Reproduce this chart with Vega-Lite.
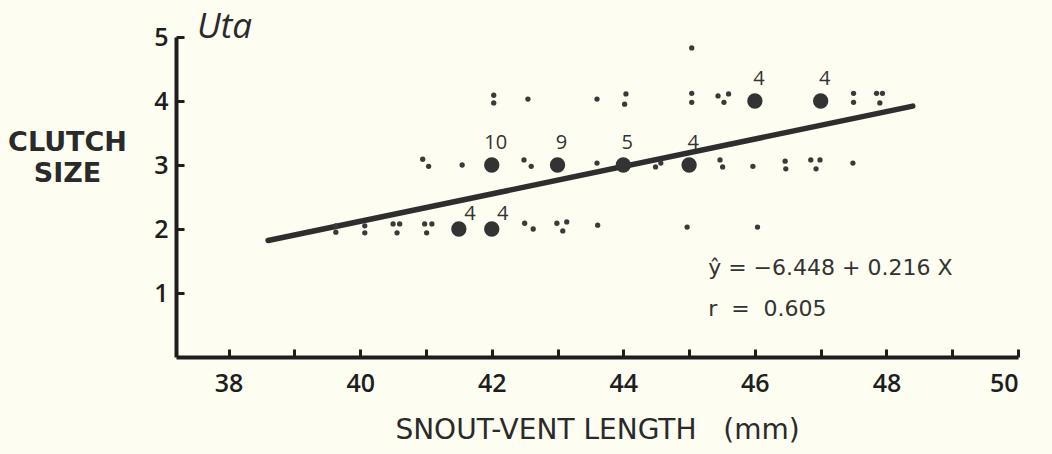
{
  "$schema": "https://vega.github.io/schema/vega-lite/v6.json",
  "width": 842,
  "height": 320,
  "autosize": "none",
  "padding": {"left": 176, "top": 37, "right": 34, "bottom": 97},
  "background": "#fdfdf1",
  "config": {
    "view": {"stroke": null},
    "axis": {
      "domainColor": "#1e1e1e",
      "domainWidth": 4,
      "tickColor": "#1e1e1e",
      "tickWidth": 3,
      "grid": false,
      "labelColor": "#1e1e1e",
      "titleColor": "#2a2a2a",
      "labelFont": "Open Sans",
      "titleFont": "DejaVu Sans"
    }
  },
  "datasets": {
    "small": [
      {"x": 42.03, "y": 4.09}, {"x": 42.03, "y": 3.97}, {"x": 42.55, "y": 4.03},
      {"x": 43.6, "y": 4.03}, {"x": 44.04, "y": 4.11}, {"x": 44.02, "y": 3.95},
      {"x": 45.04, "y": 4.83}, {"x": 45.04, "y": 4.12}, {"x": 45.04, "y": 3.98},
      {"x": 45.44, "y": 4.08}, {"x": 45.53, "y": 3.98}, {"x": 45.6, "y": 4.11},
      {"x": 47.5, "y": 4.12}, {"x": 47.5, "y": 3.98}, {"x": 47.85, "y": 4.12},
      {"x": 47.94, "y": 4.12}, {"x": 47.9, "y": 3.97},
      {"x": 40.95, "y": 3.09}, {"x": 41.04, "y": 2.98}, {"x": 41.55, "y": 3.0},
      {"x": 42.49, "y": 3.08}, {"x": 42.6, "y": 2.98}, {"x": 43.6, "y": 3.03},
      {"x": 44.49, "y": 2.97}, {"x": 44.57, "y": 3.03}, {"x": 45.47, "y": 3.08},
      {"x": 45.51, "y": 2.97}, {"x": 45.97, "y": 2.98}, {"x": 46.46, "y": 3.06},
      {"x": 46.47, "y": 2.94}, {"x": 46.85, "y": 3.08}, {"x": 46.99, "y": 3.08},
      {"x": 46.93, "y": 2.94}, {"x": 47.49, "y": 3.03},
      {"x": 39.63, "y": 1.95}, {"x": 39.63, "y": 2.05}, {"x": 40.07, "y": 1.94},
      {"x": 40.07, "y": 2.05}, {"x": 40.5, "y": 2.08}, {"x": 40.6, "y": 2.08},
      {"x": 40.56, "y": 1.94}, {"x": 40.98, "y": 2.08}, {"x": 41.09, "y": 2.08},
      {"x": 41.01, "y": 1.94}, {"x": 42.5, "y": 2.09}, {"x": 42.63, "y": 2.0},
      {"x": 42.99, "y": 2.09}, {"x": 43.14, "y": 2.11}, {"x": 43.08, "y": 1.97},
      {"x": 43.61, "y": 2.06}, {"x": 44.97, "y": 2.03}, {"x": 46.04, "y": 2.03}
    ],
    "big": [
      {"x": 41.5, "y": 2, "n": "4"}, {"x": 42, "y": 2, "n": "4"},
      {"x": 42, "y": 3, "n": "10"}, {"x": 43, "y": 3, "n": "9"},
      {"x": 44, "y": 3, "n": "5"}, {"x": 45, "y": 3, "n": "4"},
      {"x": 46, "y": 4, "n": "4"}, {"x": 47, "y": 4, "n": "4"}
    ],
    "fit": [
      {"x": 38.6, "y": 1.82}, {"x": 48.4, "y": 3.92}
    ],
    "notes": [
      {"x": 45.29, "y": 1.39, "t": "ŷ = −6.448 + 0.216 X"},
      {"x": 45.29, "y": 0.75, "t": "r \u00a0= \u00a00.605"}
    ],
    "head": [
      {"x": 37.52, "y": 4.98, "t": "Uta"}
    ]
  },
  "layer": [
    {
      "data": {"name": "fit"},
      "mark": {"type": "line", "color": "#2e2e2e", "strokeWidth": 5.5, "strokeCap": "round"},
      "encoding": {
        "x": {
          "field": "x", "type": "quantitative",
          "scale": {"domain": [37.2, 50], "nice": false, "zero": false},
          "axis": {
            "title": "SNOUT-VENT LENGTH \u00a0 (mm)",
            "values": [38, 39, 40, 41, 42, 43, 44, 45, 46, 47, 48, 49, 50],
            "format": "d",
            "labelExpr": "datum.value % 2 == 0 ? datum.label : ''",
            "tickSize": -8,
            "labelPadding": 22,
            "labelFontSize": 25,
            "labelFontWeight": 600,
            "titleFontSize": 28,
            "titleFontWeight": "normal",
            "titlePadding": 20,
            "encode": {"ticks": {"update": {"y2": {"value": -8}}}}
          }
        },
        "y": {
          "field": "y", "type": "quantitative",
          "scale": {"domain": [0, 5], "nice": false},
          "axis": {
            "title": ["CLUTCH", "SIZE"],
            "values": [1, 2, 3, 4, 5],
            "format": "d",
            "tickSize": -8,
            "labelPadding": 16,
            "labelFontSize": 25,
            "labelFontWeight": 600,
            "titleAngle": 0,
            "titleAlign": "center",
            "titleBaseline": "middle",
            "titleX": -109,
            "titleY": 105,
            "titleFontSize": 27,
            "titleFontWeight": "bold",
            "titleLineHeight": 31,
            "encode": {"ticks": {"update": {"x2": {"value": 8}}}}
          }
        }
      }
    },
    {
      "data": {"name": "small"},
      "mark": {"type": "circle", "color": "#3a3a3a", "size": 28, "opacity": 1},
      "encoding": {
        "x": {"field": "x", "type": "quantitative"},
        "y": {"field": "y", "type": "quantitative"}
      }
    },
    {
      "data": {"name": "big"},
      "mark": {"type": "circle", "color": "#333333", "size": 235, "opacity": 1},
      "encoding": {
        "x": {"field": "x", "type": "quantitative"},
        "y": {"field": "y", "type": "quantitative"}
      }
    },
    {
      "data": {"name": "big"},
      "transform": [{"filter": "datum.y != 2"}],
      "mark": {"type": "text", "color": "#333333", "font": "Open Sans", "fontSize": 20, "dx": 4, "dy": -22},
      "encoding": {
        "x": {"field": "x", "type": "quantitative"},
        "y": {"field": "y", "type": "quantitative"},
        "text": {"field": "n"}
      }
    },
    {
      "data": {"name": "big"},
      "transform": [{"filter": "datum.y == 2"}],
      "mark": {"type": "text", "color": "#333333", "font": "Open Sans", "fontSize": 20, "dx": 11, "dy": -15},
      "encoding": {
        "x": {"field": "x", "type": "quantitative"},
        "y": {"field": "y", "type": "quantitative"},
        "text": {"field": "n"}
      }
    },
    {
      "data": {"name": "notes"},
      "mark": {"type": "text", "color": "#333333", "font": "DejaVu Sans", "fontSize": 22, "align": "left", "baseline": "middle"},
      "encoding": {
        "x": {"field": "x", "type": "quantitative"},
        "y": {"field": "y", "type": "quantitative"},
        "text": {"field": "t"}
      }
    },
    {
      "data": {"name": "head"},
      "mark": {"type": "text", "color": "#2a2a2a", "font": "Open Sans", "fontSize": 35, "fontStyle": "italic", "align": "left", "baseline": "alphabetic"},
      "encoding": {
        "x": {"field": "x", "type": "quantitative"},
        "y": {"field": "y", "type": "quantitative"},
        "text": {"field": "t"}
      }
    }
  ]
}
